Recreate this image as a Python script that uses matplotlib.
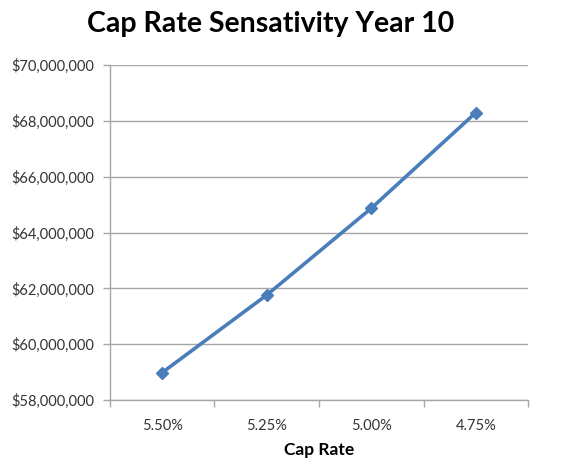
import matplotlib
matplotlib.use("Agg")
import matplotlib.pyplot as plt
from matplotlib.ticker import FuncFormatter, FixedLocator

cap_rates = ["5.50%", "5.25%", "5.00%", "4.75%"]
values = [58_980_000, 61_760_000, 64_870_000, 68_300_000]
y_ticks = [58_000_000, 60_000_000, 62_000_000, 64_000_000, 66_000_000, 68_000_000, 70_000_000]

plt.rcParams["font.family"] = ["Lato", "DejaVu Sans"]

fig = plt.figure(figsize=(5.63, 4.59), dpi=100)
ax = fig.add_axes([0.195, 0.1285, 0.743, 0.7295])

x = list(range(len(cap_rates)))
ax.plot(x, values, color="#4a7ebb", linewidth=2.6, marker="D", markersize=6.5,
        markerfacecolor="#4a7ebb", markeredgecolor="#4a7ebb", zorder=3)

ax.set_xlim(-0.5, len(cap_rates) - 0.5)
ax.set_ylim(y_ticks[0], y_ticks[-1])
ax.set_yticks(y_ticks)
ax.yaxis.set_major_formatter(FuncFormatter(lambda v, p: f"${v:,.0f}"))
ax.grid(axis="y", color="#a6a6a6", linewidth=1.0)
ax.set_axisbelow(True)

ax.set_xticks(x)
ax.set_xticklabels(cap_rates)
ax.xaxis.set_minor_locator(FixedLocator([i - 0.5 for i in range(len(cap_rates) + 1)]))
ax.tick_params(axis="x", which="major", length=0, pad=14, labelsize=10.5, labelcolor="#333333")
ax.tick_params(axis="x", which="minor", length=5, color="#a6a6a6", width=1)
ax.tick_params(axis="y", length=5, color="#a6a6a6", width=1, pad=6, labelsize=10.5, labelcolor="#333333")

for side in ("top", "right"):
    ax.spines[side].set_visible(False)
for side in ("left", "bottom"):
    ax.spines[side].set_color("#a6a6a6")
    ax.spines[side].set_linewidth(1)

ax.set_xlabel("Cap Rate", fontsize=12.5, fontweight="bold", labelpad=6)
fig.text(0.48, 0.947, "Cap Rate Sensativity Year 10", ha="center", va="center",
         fontsize=20.5, fontweight="bold")

fig.savefig("out.png", dpi=100, facecolor="white")
